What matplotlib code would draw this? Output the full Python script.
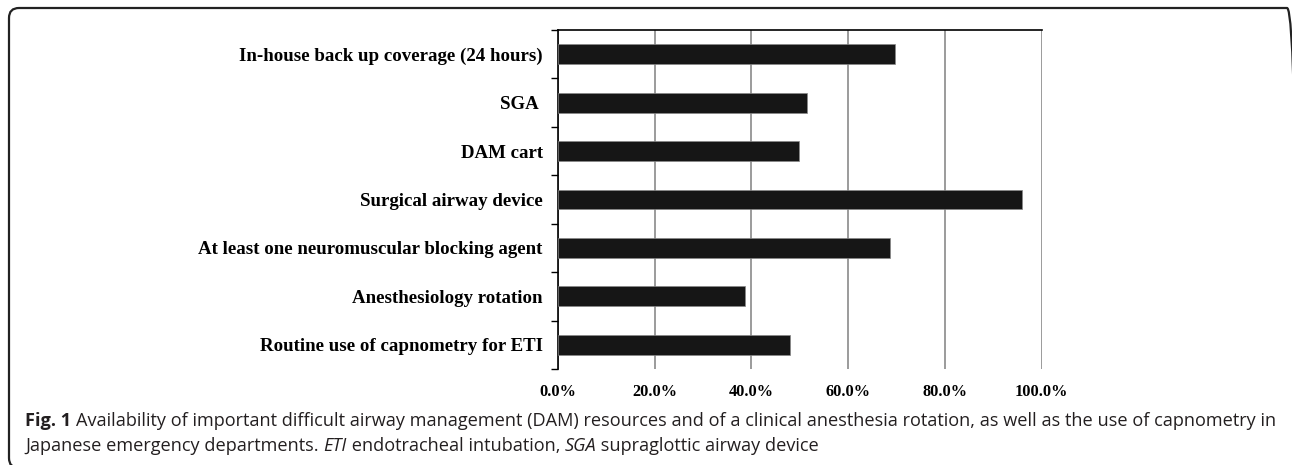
import matplotlib.pyplot as plt
import numpy as np
from matplotlib.patches import FancyBboxPatch
from matplotlib.ticker import FuncFormatter

# data
categories = ["In-house back up coverage (24 hours)", "SGA ", "DAM cart",
              "Surgical airway device", "At least one neuromuscular blocking agent",
              "Anesthesiology rotation", "Routine use of capnometry for ETI"]
values = [69.6, 51.6, 49.8, 96.0, 68.7, 38.7, 47.9]
xticks = [0, 20, 40, 60, 80, 100]

W, H = 1292, 465
fig = plt.figure(figsize=(W / 100, H / 100), dpi=100)
ax = fig.add_axes([558 / W, 1 - 369 / H, (1041.5 - 558) / W, (369 - 30) / H])

serif = "Liberation Serif"
y = np.arange(len(categories))
ax.barh(y, values, height=0.41, color="#161616", edgecolor="#888888", linewidth=0.5, zorder=3)
ax.set_ylim(len(categories) - 0.5, -0.5)
ax.set_xlim(0, 100)

ax.set_yticks(y)
ax.set_yticklabels(categories, fontfamily=serif, fontweight="bold", fontsize=13.6)
ax.set_yticks(np.arange(-0.5, len(categories)), minor=True)
ax.tick_params(axis="y", which="major", length=0, pad=11)
ax.tick_params(axis="y", which="minor", length=5, width=1, direction="out")

ax.set_xticks(xticks)
ax.xaxis.set_major_formatter(FuncFormatter(lambda v, p: f"{v:.1f}%"))
for t in ax.get_xticklabels():
    t.set_fontfamily(serif)
    t.set_fontweight("bold")
    t.set_fontsize(11.8)
ax.tick_params(axis="x", length=0, pad=11)

ax.grid(axis="x", color="#8a8a8a", linewidth=1.2, zorder=0)
ax.spines["bottom"].set_visible(False)
ax.spines["right"].set_visible(False)
ax.spines["top"].set_linewidth(1.2)
ax.spines["left"].set_linewidth(1.2)

# rounded frame (right and bottom edges run off the image)
frame = FancyBboxPatch((0.09, -0.03), 12.88, 4.60,
                       boxstyle="round,pad=0,rounding_size=0.1",
                       transform=fig.dpi_scale_trans, fill=False,
                       edgecolor="#222222", linewidth=1.6)
fig.patches.append(frame)

# caption
cap = ["Open Sans", "DejaVu Sans"]
renderer = fig.canvas.get_renderer()
line1 = [("Fig. 1 ", {"fontweight": "bold"}),
         ("Availability of important difficult airway management (DAM) resources and of a clinical "
          "anesthesia rotation, as well as the use of capnometry in", {})]
line2 = [("Japanese emergency departments. ", {}), ("ETI", {"style": "italic"}),
         (" endotracheal intubation, ", {}), ("SGA", {"style": "italic"}),
         (" supraglottic airway device", {})]


def write(parts, x0, ypix, fs):
    x = x0
    for txt, kw in parts:
        t = fig.text(x / W, 1 - ypix / H, txt, fontsize=fs, family=cap,
                     color="#231f20", va="center", ha="left", **kw)
        x += t.get_window_extent(renderer).width
    return x - x0


# fit the first line to the width it takes in the original
probe = fig.text(0, 0, line1[0][0] + line1[1][0], fontsize=10, family=cap)
w10 = probe.get_window_extent(renderer).width
probe.remove()
fs = 10 * 1252 / w10

write(line1, 25, 421, fs)
write(line2, 25, 446, fs)

fig.savefig("out.png", dpi=100)
